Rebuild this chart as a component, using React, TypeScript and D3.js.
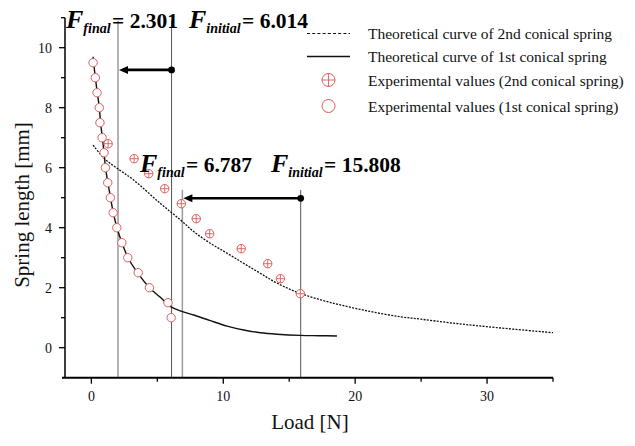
import React from "react";
import * as d3 from "d3";

// ---- data ----
const expLoad1 = [0.13, 0.30, 0.43, 0.60, 0.65, 0.81, 0.96, 1.06, 1.24, 1.44, 1.65, 1.93, 2.31, 2.76, 3.55, 4.40, 5.81, 6.05];
const expLen1 = [9.5, 9.0, 8.5, 8.0, 7.5, 7.0, 6.5, 6.0, 5.5, 5.0, 4.5, 4.0, 3.5, 3.0, 2.5, 2.0, 1.5, 1.0];

const expLoad2 = [1.27, 3.24, 4.35, 5.56, 6.82, 7.95, 8.97, 11.36, 13.37, 14.33, 15.84];
const expLen2 = [6.8, 6.3, 5.8, 5.3, 4.8, 4.3, 3.8, 3.3, 2.8, 2.3, 1.8];

const theoLoad1 = [0.13, 0.30, 0.45, 0.60, 0.70, 0.83, 0.96, 1.07, 1.25, 1.45, 1.66, 1.94, 2.32, 2.78, 3.50, 4.40, 5.23, 6.0, 6.8, 7.76, 9.02, 10.29, 11.55, 12.81, 14.08, 15.85, 17.3, 18.62];
const theoLen1 = [9.7, 9.0, 8.5, 8.0, 7.5, 7.0, 6.5, 6.0, 5.5, 5.0, 4.5, 4.0, 3.5, 3.0, 2.5, 2.0, 1.68, 1.37, 1.22, 1.09, 0.9, 0.72, 0.59, 0.5, 0.45, 0.41, 0.40, 0.39];

const theoLoad2 = [0.13, 1.0, 1.95, 3.2, 5.23, 6.75, 7.76, 9.02, 10.29, 11.55, 12.81, 14.08, 15.85, 18.37, 20.9, 23.43, 25.0, 27.2, 30.0, 35.0];
const theoLen2 = [6.75, 6.3, 5.98, 5.59, 4.81, 4.26, 3.87, 3.48, 3.15, 2.81, 2.48, 2.15, 1.81, 1.48, 1.23, 1.03, 0.95, 0.83, 0.70, 0.50];

const guideLoads = [2.02, 6.08, 6.9, 15.87];
const guideTops = [10.9, 10.9, 5.26, 5.26];
const guideColors = ["#9a9a9a", "#555555", "#9a9a9a", "#555555"];

const arrowFrom = [6.08, 15.87];
const arrowTo = [2.02, 6.9];
const arrowLen = [9.26, 4.98];

const annSub = ["final", "initial", "final", "initial"];
const annValue = ["2.301", "6.014", "6.787", "15.808"];

const xMajor = [0, 10, 20, 30];
const xMinor = [5, 15, 25, 35];
const yMajor = [0, 2, 4, 6, 8, 10];
const yMinor = [1, 3, 5, 7, 9, 11];

const legendLabels = [
  "Theoretical curve of 2nd conical spring",
  "Theoretical curve of 1st conical spring",
  "Experimental values (2nd conical spring)",
  "Experimental values (1st conical spring)",
];

const W = 635;
const H = 446;
const FONT = "'Liberation Serif', 'Times New Roman', serif";
const RED = "#dc5c5c";

export default function App() {
  const x = d3.scaleLinear().domain([-2, 35]).range([65, 553]);
  const y = d3.scaleLinear().domain([-1, 11]).range([377.7, 17.7]);

  const line = d3
    .line<[number, number]>()
    .x((d) => x(d[0]))
    .y((d) => y(d[1]))
    .curve(d3.curveCatmullRom.alpha(0.5));

  const t1 = theoLoad1.map((v, i) => [v, theoLen1[i]] as [number, number]);
  const t2 = theoLoad2.map((v, i) => [v, theoLen2[i]] as [number, number]);

  const annPos = [
    { x: 66, y: 28 },
    { x: 189, y: 28 },
    { x: 140, y: 172 },
    { x: 271, y: 172 },
  ];

  const legendY = [33.5, 56.5, 80, 106];
  const legendTextY = [39, 62, 85.5, 111.5];

  return (
    <svg
      width={W}
      height={H}
      style={{ position: "absolute", left: 0, top: 0, background: "#fff" }}
      fontFamily={FONT}
    >
      {/* guide vertical lines */}
      {guideLoads.map((g, i) => (
        <line
          key={"g" + i}
          x1={x(g)}
          x2={x(g)}
          y1={y(guideTops[i])}
          y2={y(-1)}
          stroke={guideColors[i]}
          strokeWidth={i % 2 === 0 ? 1.5 : 1}
        />
      ))}

      {/* theoretical curves */}
      <path d={line(t2) || ""} fill="none" stroke="#111" strokeWidth={1.3} strokeDasharray="2,1.3" />
      <path d={line(t1) || ""} fill="none" stroke="#111" strokeWidth={1.4} />

      {/* experimental 1st (open circles) */}
      {expLoad1.map((v, i) => (
        <circle key={"e1" + i} cx={x(v)} cy={y(expLen1[i])} r={4.2} fill="#fff" stroke={RED} strokeWidth={1} />
      ))}
      {/* experimental 2nd (crossed circles) */}
      {expLoad2.map((v, i) => {
        const cx = x(v);
        const cy = y(expLen2[i]);
        return (
          <g key={"e2" + i}>
            <circle cx={cx} cy={cy} r={4.2} fill="#fff" stroke={RED} strokeWidth={1} />
            <line x1={cx - 4.2} x2={cx + 4.2} y1={cy} y2={cy} stroke={RED} strokeWidth={0.9} />
            <line x1={cx} x2={cx} y1={cy - 4.2} y2={cy + 4.2} stroke={RED} strokeWidth={0.9} />
          </g>
        );
      })}

      {/* arrows */}
      {arrowFrom.map((a, i) => {
        const x0 = x(a);
        const x1 = x(arrowTo[i]);
        const yy = y(arrowLen[i]);
        return (
          <g key={"a" + i}>
            <line x1={x0} x2={x1 + 7} y1={yy} y2={yy} stroke="#000" strokeWidth={2.6} />
            <path d={`M${x1 + 1},${yy} L${x1 + 10},${yy - 4} L${x1 + 10},${yy + 4} Z`} fill="#000" />
            <circle cx={x0} cy={yy} r={3.4} fill="#000" />
          </g>
        );
      })}

      {/* annotations */}
      {annPos.map((p, i) => (
        <text key={"t" + i} x={p.x} y={p.y} fontWeight="bold" fill="#000">
          <tspan fontStyle="italic" fontSize={26}>F</tspan>
          <tspan fontStyle="italic" fontSize={14} dy={4.5}>{annSub[i]}</tspan>
          <tspan fontSize={21.5} dy={-4.5} dx={1.5}>{"= " + annValue[i]}</tspan>
        </text>
      ))}

      {/* axes */}
      <line x1={62} x2={x(35)} y1={y(-1)} y2={y(-1)} stroke="#000" strokeWidth={2} />
      <line x1={x(-2)} x2={x(-2)} y1={y(-1)} y2={y(11)} stroke="#000" strokeWidth={1.5} />
      {xMajor.map((v) => (
        <g key={"xm" + v}>
          <line x1={x(v)} x2={x(v)} y1={y(-1)} y2={y(-1) + 6} stroke="#000" strokeWidth={1.3} />
          <text x={x(v)} y={401} fontSize={14} textAnchor="middle" fill="#111">{v}</text>
        </g>
      ))}
      {xMinor.map((v) => (
        <line key={"xn" + v} x1={x(v)} x2={x(v)} y1={y(-1)} y2={y(-1) + 4} stroke="#000" strokeWidth={1.3} />
      ))}
      {yMajor.map((v) => (
        <g key={"ym" + v}>
          <line x1={x(-2) - 6} x2={x(-2)} y1={y(v)} y2={y(v)} stroke="#000" strokeWidth={1.3} />
          <text x={52} y={y(v) + 5} fontSize={14} textAnchor="end" fill="#111">{v}</text>
        </g>
      ))}
      {yMinor.map((v) => (
        <line key={"yn" + v} x1={x(-2) - 4} x2={x(-2)} y1={y(v)} y2={y(v)} stroke="#000" strokeWidth={1.3} />
      ))}

      {/* axis titles */}
      <text x={310} y={429} fontSize={21} textAnchor="middle" fill="#111">Load [N]</text>
      <text
        transform={`translate(29, 205) rotate(-90)`}
        fontSize={21}
        textAnchor="middle"
        fill="#111"
      >
        Spring length [mm]
      </text>

      {/* legend */}
      <line x1={307} x2={350} y1={legendY[0]} y2={legendY[0]} stroke="#111" strokeWidth={1.2} strokeDasharray="3,2.2" />
      <line x1={307} x2={350} y1={legendY[1]} y2={legendY[1]} stroke="#111" strokeWidth={1.4} />
      <circle cx={328.5} cy={legendY[2]} r={6.5} fill="#fff" stroke={RED} strokeWidth={1} />
      <line x1={322} x2={335} y1={legendY[2]} y2={legendY[2]} stroke={RED} strokeWidth={0.9} />
      <line x1={328.5} x2={328.5} y1={legendY[2] - 6.5} y2={legendY[2] + 6.5} stroke={RED} strokeWidth={0.9} />
      <circle cx={328.5} cy={legendY[3]} r={6.5} fill="#fff" stroke={RED} strokeWidth={1} />
      {legendLabels.map((l, i) => (
        <text key={"l" + i} x={368} y={legendTextY[i]} fontSize={15.5} fill="#111">{l}</text>
      ))}
    </svg>
  );
}
